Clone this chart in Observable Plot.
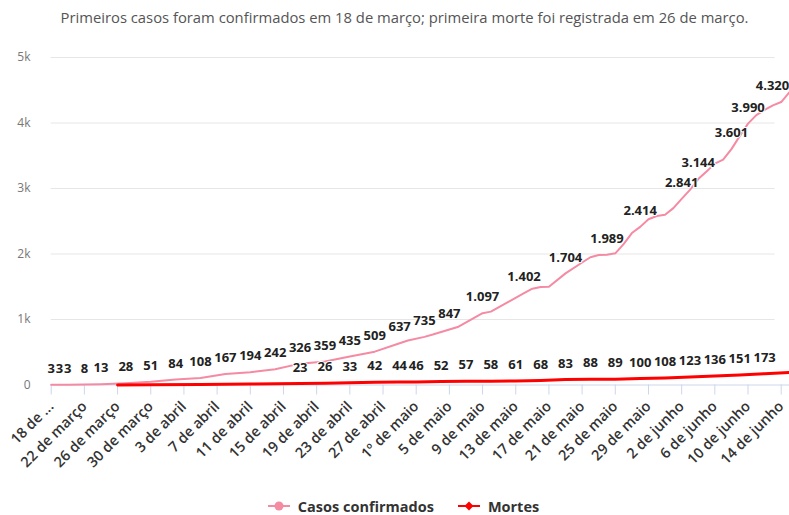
<!DOCTYPE html>
<html><head><meta charset="utf-8">
<script src="https://cdn.jsdelivr.net/npm/d3@7"></script>
<script src="https://cdn.jsdelivr.net/npm/@observablehq/plot@0.6"></script>
<style>
html,body{margin:0;padding:0;background:#fff;overflow:hidden;font-family:"Open Sans",sans-serif;}
#title{height:35px;line-height:35px;text-align:center;font-size:14.8px;color:#555;padding-left:20px;white-space:nowrap;}
#chart svg{display:block;}
#legend{display:flex;justify-content:center;align-items:center;height:28px;font-size:14.5px;font-weight:700;color:#333;padding-left:18px;}
.item{display:flex;align-items:center;margin:0 12px;}
.item svg{margin-right:8px;}
</style></head><body>
<div id="title">Primeiros casos foram confirmados em 18 de março; primeira morte foi registrada em 26 de março.</div>
<div id="chart"></div>
<div id="legend"></div>
<script>
// Casos confirmados (acumulado)
const casosDatas = ["2020-03-18","2020-03-19","2020-03-20","2020-03-22","2020-03-24","2020-03-27","2020-03-30","2020-04-02","2020-04-05","2020-04-08","2020-04-11","2020-04-14","2020-04-17","2020-04-20","2020-04-23","2020-04-26","2020-04-29","2020-04-30","2020-05-02","2020-05-03","2020-05-05","2020-05-06","2020-05-09","2020-05-10","2020-05-12","2020-05-14","2020-05-15","2020-05-16","2020-05-17","2020-05-19","2020-05-21","2020-05-22","2020-05-23","2020-05-24","2020-05-25","2020-05-26","2020-05-27","2020-05-28","2020-05-29","2020-05-30","2020-05-31","2020-06-01","2020-06-02","2020-06-03","2020-06-04","2020-06-05","2020-06-06","2020-06-07","2020-06-08","2020-06-09","2020-06-10","2020-06-11","2020-06-12","2020-06-13","2020-06-14","2020-06-15"];
const casosValores = [3,3,3,8,13,28,51,84,108,167,194,242,326,359,435,509,637,680,735,770,847,885,1097,1120,1260,1402,1470,1495,1500,1704,1870,1950,1985,1989,2010,2150,2320,2414,2530,2580,2600,2700,2841,2980,3144,3260,3380,3440,3601,3800,3990,4120,4200,4270,4320,4470];
const casosRotulados = ["2020-03-18","2020-03-19","2020-03-20","2020-03-22","2020-03-24","2020-03-27","2020-03-30","2020-04-02","2020-04-05","2020-04-08","2020-04-11","2020-04-14","2020-04-17","2020-04-20","2020-04-23","2020-04-26","2020-04-29","2020-05-02","2020-05-05","2020-05-09","2020-05-14","2020-05-19","2020-05-24","2020-05-28","2020-06-02","2020-06-04","2020-06-08","2020-06-10"];
const casosRotuloBorda = ["2020-06-14"]; // rótulo ajustado para dentro da área

// Mortes (acumulado)
const mortesDatas = ["2020-03-26","2020-03-30","2020-04-05","2020-04-11","2020-04-17","2020-04-20","2020-04-23","2020-04-26","2020-04-29","2020-05-01","2020-05-04","2020-05-07","2020-05-10","2020-05-13","2020-05-16","2020-05-19","2020-05-22","2020-05-25","2020-05-28","2020-05-31","2020-06-03","2020-06-06","2020-06-09","2020-06-12","2020-06-15"];
const mortesValores = [1,3,8,14,23,26,33,42,44,46,52,57,58,61,68,83,88,89,100,108,123,136,151,173,190];
const mortesRotulados = ["2020-04-17","2020-04-20","2020-04-23","2020-04-26","2020-04-29","2020-05-01","2020-05-04","2020-05-07","2020-05-10","2020-05-13","2020-05-16","2020-05-19","2020-05-22","2020-05-25","2020-05-28","2020-05-31","2020-06-03","2020-06-06","2020-06-09","2020-06-12"];

// Eixos
const xTickDatas = ["2020-03-18","2020-03-22","2020-03-26","2020-03-30","2020-04-03","2020-04-07","2020-04-11","2020-04-15","2020-04-19","2020-04-23","2020-04-27","2020-05-01","2020-05-05","2020-05-09","2020-05-13","2020-05-17","2020-05-21","2020-05-25","2020-05-29","2020-06-02","2020-06-06","2020-06-10","2020-06-14"];
const xTickRotulos = ["18 de ...","22 de março","26 de março","30 de março","3 de abril","7 de abril","11 de abril","15 de abril","19 de abril","23 de abril","27 de abril","1º de maio","5 de maio","9 de maio","13 de maio","17 de maio","21 de maio","25 de maio","29 de maio","2 de junho","6 de junho","10 de junho","14 de junho"];
const yTicks = [0,1000,2000,3000,4000,5000];
const yTickRotulos = ["0","1k","2k","3k","4k","5k"];
const gradeInicio = "2020-03-18", gradeFim = "2020-06-13T06:00";

const serieNomes = ["Casos confirmados","Mortes"];
const serieCores = ["#f58aa3","#ff0000"];

const parse = s => new Date(s.length > 10 ? s + ":00Z" : s + "T00:00:00Z");
const casos = casosDatas.map((d,i)=>({date: parse(d), value: casosValores[i], key: d}));
const mortes = mortesDatas.map((d,i)=>({date: parse(d), value: mortesValores[i], key: d}));
const casosLab = casos.filter(d => casosRotulados.includes(d.key));
const casosLabBorda = casos.filter(d => casosRotuloBorda.includes(d.key));
const mortesLab = mortes.filter(d => mortesRotulados.includes(d.key));
const fmt = d3.formatLocale({decimal: ",", thousands: ".", grouping: [3], currency: ["R$", ""]}).format(",d");
const xTickMap = new Map(xTickDatas.map((d,i)=>[+parse(d), xTickRotulos[i]]));
const labelStyle = {fontSize: 13, fontWeight: 700, fill: "#222", stroke: "white", strokeWidth: 2};

const plot = Plot.plot({
  width: 789, height: 457,
  marginLeft: 50.7, marginRight: 0, marginTop: 22, marginBottom: 107.5,
  style: {fontFamily: '"Open Sans", sans-serif', background: "white", overflow: "visible"},
  x: {type: "utc", domain: [parse("2020-03-18"), parse("2020-06-15")]},
  y: {domain: [0, 5000]},
  marks: [
    Plot.ruleY(yTicks.slice(1), {x1: () => parse(gradeInicio), x2: () => parse(gradeFim), stroke: "#e6e6e6"}),
    Plot.ruleY([0], {stroke: "#ccd6eb"}),
    Plot.axisY({ticks: yTicks, tickFormat: d => yTickRotulos[yTicks.indexOf(d)], tickSize: 0, tickPadding: 20.7, fill: "#777", fontSize: 12, label: null}),
    Plot.axisX({ticks: xTickDatas.map(parse), tickFormat: d => xTickMap.get(+d), tickSize: 10, tickPadding: 9, tickRotate: -45, stroke: "#ccd6eb", fill: "#333", fontSize: 14.5, fontWeight: 600, label: null}),
    Plot.line(casos, {x: "date", y: "value", stroke: serieCores[0], strokeWidth: 2}),
    Plot.line(mortes, {x: "date", y: "value", stroke: serieCores[1], strokeWidth: 3}),
    Plot.text(casosLab, {x: "date", y: "value", text: d => fmt(d.value), dy: -16, ...labelStyle}),
    Plot.text(casosLabBorda, {x: "date", y: "value", text: d => fmt(d.value), dy: -16, textAnchor: "end", dx: 8, ...labelStyle}),
    Plot.text(mortesLab, {x: "date", y: "value", text: d => fmt(d.value), dy: -16, ...labelStyle})
  ]
});
document.getElementById("chart").appendChild(plot);

// Legenda
const legend = document.getElementById("legend");
serieNomes.forEach((nome, i) => {
  const it = document.createElement("div");
  it.className = "item";
  const marker = i === 0
    ? `<circle cx="11" cy="7" r="4.5" fill="${serieCores[i]}"/>`
    : `<path d="M11 2.5 L15.5 7 L11 11.5 L6.5 7 Z" fill="${serieCores[i]}"/>`;
  it.innerHTML = `<svg width="22" height="14"><line x1="0" x2="22" y1="7" y2="7" stroke="${serieCores[i]}" stroke-width="2"/>${marker}</svg><span>${nome}</span>`;
  legend.appendChild(it);
});
</script>
</body></html>
